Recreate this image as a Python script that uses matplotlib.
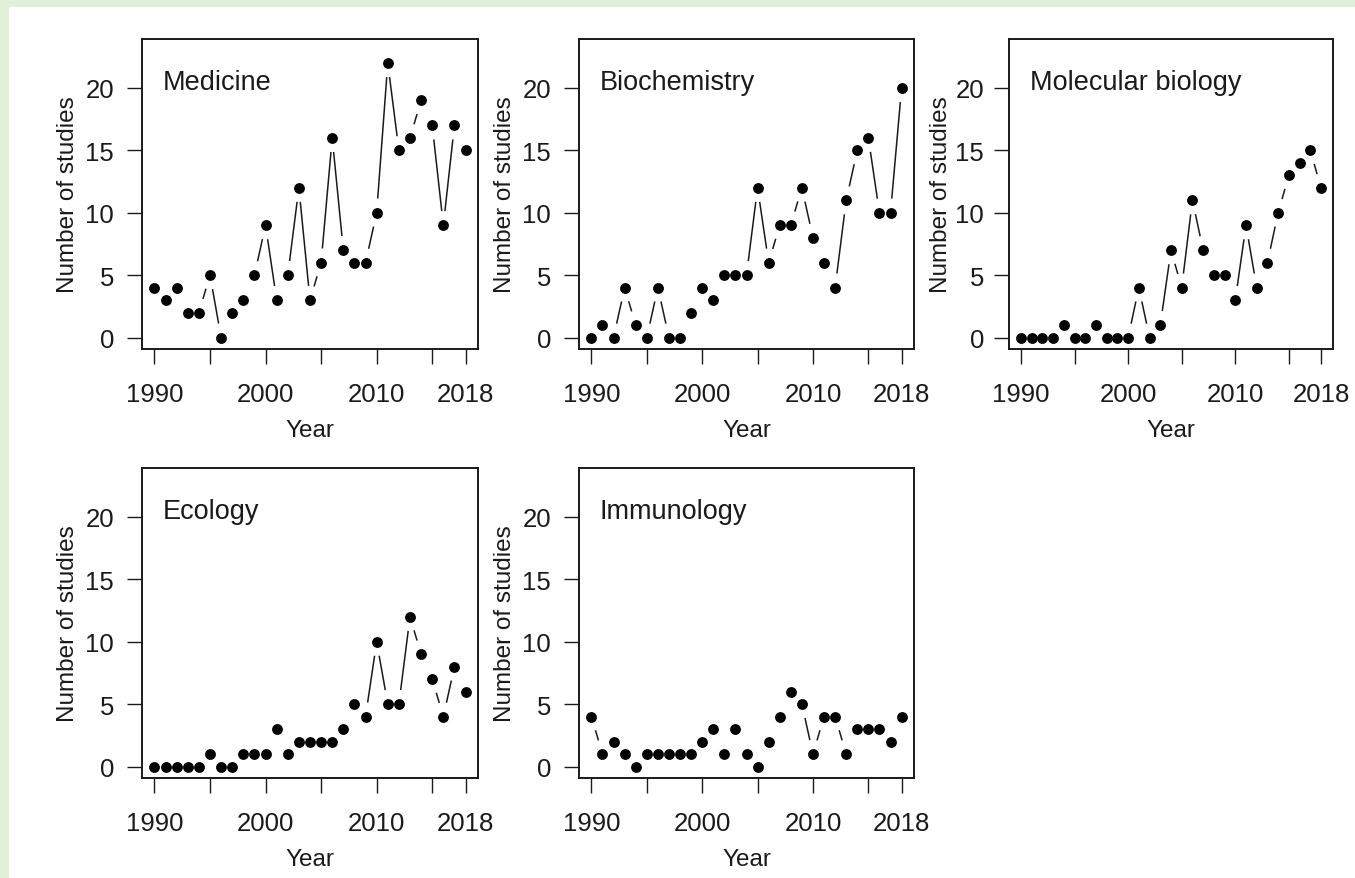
import numpy as np
import matplotlib
matplotlib.use("Agg")
import matplotlib.pyplot as plt

plt.rcParams['font.family'] = ['Liberation Sans', 'DejaVu Sans']

years = list(range(1990, 2019))

medicine = [4, 3, 4, 2, 2, 5, 0, 2, 3, 5, 9, 3, 5, 12, 3, 6, 16, 7, 6, 6,
            10, 22, 15, 16, 19, 17, 9, 17, 15]
biochemistry = [0, 1, 0, 4, 1, 0, 4, 0, 0, 2, 4, 3, 5, 5, 5, 12, 6, 9, 9, 12,
                8, 6, 4, 11, 15, 16, 10, 10, 20]
molecular_biology = [0, 0, 0, 0, 1, 0, 0, 1, 0, 0, 0, 4, 0, 1, 7, 4, 11, 7, 5, 5,
                     3, 9, 4, 6, 10, 13, 14, 15, 12]
ecology = [0, 0, 0, 0, 0, 1, 0, 0, 1, 1, 1, 3, 1, 2, 2, 2, 2, 3, 5, 4,
           10, 5, 5, 12, 9, 7, 4, 8, 6]
immunology = [4, 1, 2, 1, 0, 1, 1, 1, 1, 1, 2, 3, 1, 3, 1, 0, 2, 4, 6, 5,
              1, 4, 4, 1, 3, 3, 3, 2, 4]

panels = [("Medicine", medicine), ("Biochemistry", biochemistry),
          ("Molecular biology", molecular_biology), ("Ecology", ecology),
          ("Immunology", immunology)]

xticks = [1990, 1995, 2000, 2005, 2010, 2015, 2018]
xticklabels = ["1990", "", "2000", "", "2010", "", "2018"]
yticks = [0, 5, 10, 15, 20]

W, H = 1355, 879
# box positions in pixels: left, top, right, bottom
boxes = [(142, 40, 478, 350), (579, 40, 914, 350), (1009, 40, 1333, 350),
         (142, 469, 478, 779), (579, 469, 914, 779)]

fig = plt.figure(figsize=(W / 100, H / 100), dpi=100)
fig.patch.set_facecolor("white")
# light green frame at top and left
fig.add_artist(plt.Rectangle((0, 1 - 7 / H), 1, 7 / H, transform=fig.transFigure,
                             color="#e2efd9", zorder=0))
fig.add_artist(plt.Rectangle((0, 0), 8 / W, 1, transform=fig.transFigure,
                             color="#e2efd9", zorder=0))

GAP = 14.2  # px, R type="b" gap around points
INK = "#1a1a1a"

for k, ((name, vals), (l, t, r, b)) in enumerate(zip(panels, boxes)):
    ax = fig.add_axes([l / W, 1 - b / H, (r - l) / W, (b - t) / H])
    ax.set_xlim(1988.88, 2019.12)
    ax.set_ylim(-0.92, 23.92)

    x = np.array(years, dtype=float)
    y = np.array(vals, dtype=float)
    pts = ax.transData.transform(np.column_stack([x, y]))
    inv = ax.transData.inverted()
    for i in range(len(pts) - 1):
        p1, p2 = pts[i], pts[i + 1]
        d = p2 - p1
        L = np.hypot(*d)
        if L > 2 * GAP + 1:
            u = d / L
            a = inv.transform(p1 + u * GAP)
            c = inv.transform(p2 - u * GAP)
            ax.plot([a[0], c[0]], [a[1], c[1]], color=INK, lw=1.1,
                    solid_capstyle="butt")
    ax.plot(x, y, "o", color="black", ms=7.8, mew=0)

    narrow = (k == 2)  # third column is a little squeezed in the original
    ax.set_xticks(xticks)
    ax.set_xticklabels(xticklabels)
    ax.set_yticks(yticks)
    ax.tick_params(direction="out", length=11, width=1.0, labelsize=18.5,
                   colors=INK)
    ax.tick_params(axis="x", pad=13)
    ax.tick_params(axis="y", pad=7 if narrow else 9)
    for s in ax.spines.values():
        s.set_linewidth(1.4)
        s.set_color(INK)
    ax.set_xlabel("Year", fontsize=17.5, labelpad=9, color=INK)
    ax.set_ylabel("Number of studies", fontsize=17.5,
                  labelpad=2 if narrow else 5, color=INK)
    ax.text(21 / (r - l), 1 - 50 / (b - t), name, transform=ax.transAxes,
            fontsize=19.5, va="baseline", ha="left", color=INK)

fig.savefig("out.png", dpi=100)
